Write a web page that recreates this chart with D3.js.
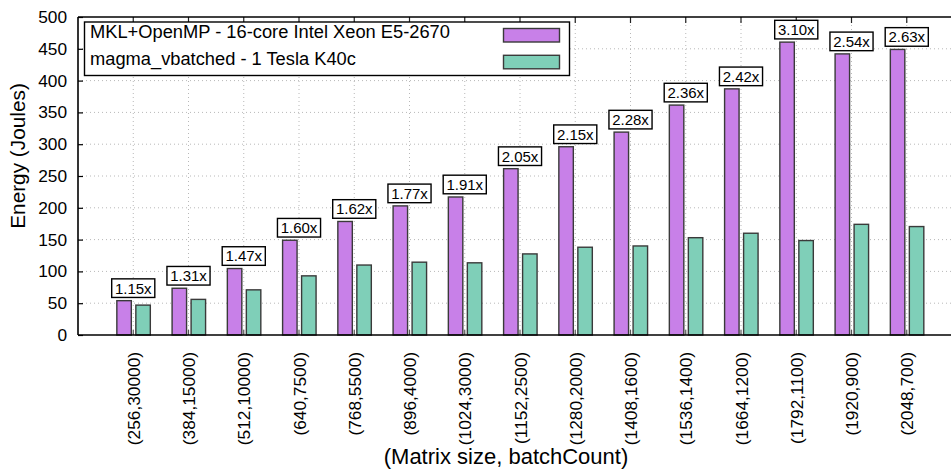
<!DOCTYPE html>
<html>
<head>
<meta charset="utf-8">
<script src="https://cdn.jsdelivr.net/npm/d3@7"></script>
<style>
  html, body { margin: 0; padding: 0; background: #fff; }
  svg { display: block; font-family: "Liberation Sans", Arial, Helvetica, sans-serif; }
</style>
</head>
<body>
<svg id="chart" width="951" height="470"></svg>
<script>
// Matrix size / batch count configurations
const categories = [
  "(256,30000)", "(384,15000)", "(512,10000)", "(640,7500)", "(768,5500)",
  "(896,4000)", "(1024,3000)", "(1152,2500)", "(1280,2000)", "(1408,1600)",
  "(1536,1400)", "(1664,1200)", "(1792,1100)", "(1920,900)", "(2048,700)"
];
// Energy in Joules, CPU (MKL+OpenMP) and GPU (magma_vbatched)
const cpuEnergy = [54, 73.5, 104.5, 149, 178.5, 203, 217, 261.5, 296, 319, 361.5, 387, 460.5, 442, 449];
const gpuEnergy = [47, 56, 71, 93, 110, 114.5, 113.5, 127.5, 138, 140, 153, 160, 148.5, 174, 170.5];
// Energy ratio annotated above each pair
const speedups = [1.15, 1.31, 1.47, 1.60, 1.62, 1.77, 1.91, 2.05, 2.15, 2.28, 2.36, 2.42, 3.10, 2.54, 2.63];
const yTicks = [0, 50, 100, 150, 200, 250, 300, 350, 400, 450, 500];
const seriesNames = ["MKL+OpenMP - 16-core Intel Xeon E5-2670", "magma_vbatched - 1 Tesla K40c"];
const seriesColors = ["#c880e8", "#7fcfb8"];

const svg = d3.select("#chart");
const plotLeft = 78, plotTop = 17, plotBottom = 335, plotRight = 962;

const x = d3.scaleLinear().domain([-1, categories.length]).range([plotLeft, plotRight]);
const y = d3.scaleLinear().domain([0, 500]).range([plotBottom, plotTop]);

// grid
const grid = svg.append("g").attr("stroke", "#b8b8b8").attr("stroke-width", 1)
  .attr("stroke-dasharray", "1,3");
grid.selectAll("line.h").data(yTicks.filter(t => t > 0 && t < 500)).join("line")
  .attr("x1", plotLeft).attr("x2", plotRight).attr("y1", d => y(d)).attr("y2", d => y(d));
grid.selectAll("line.v").data(categories).join("line")
  .attr("x1", (d, i) => x(i)).attr("x2", (d, i) => x(i)).attr("y1", plotTop).attr("y2", plotBottom);

// bars
const barW = 0.262;
const offsets = [-0.297, 0.047];
const series = [cpuEnergy, gpuEnergy];
series.forEach((vals, s) => {
  svg.append("g").selectAll("rect").data(vals).join("rect")
    .attr("x", (d, i) => x(i + offsets[s]))
    .attr("width", x(barW) - x(0))
    .attr("y", d => y(d))
    .attr("height", d => y(0) - y(d))
    .attr("fill", seriesColors[s])
    .attr("stroke", "#3a3a3a")
    .attr("stroke-width", 1.4);
});

// inner tick marks at the category positions (bottom and top)
const tk = svg.append("g").attr("stroke", "#555").attr("stroke-width", 1.2);
tk.selectAll("line.b").data(categories).join("line")
  .attr("x1", (d, i) => x(i)).attr("x2", (d, i) => x(i)).attr("y1", plotBottom).attr("y2", plotBottom - 5);
tk.selectAll("line.t").data(categories).join("line")
  .attr("x1", (d, i) => x(i)).attr("x2", (d, i) => x(i)).attr("y1", plotTop).attr("y2", plotTop + 6)
  .attr("stroke", "#222");

// y axis
const yAxis = d3.axisLeft(y).tickValues(yTicks).tickSizeInner(-5).tickSizeOuter(0).tickPadding(11);
const ya = svg.append("g").attr("transform", `translate(${plotLeft},0)`).call(yAxis);
ya.select(".domain").remove();
ya.selectAll(".tick line").attr("stroke", "#000").attr("stroke-width", 1.2);
ya.selectAll(".tick text").attr("font-size", 17.3).attr("fill", "#000")
  .attr("font-family", "Liberation Sans, Arial, sans-serif");

// x axis labels (rotated)
const xAxis = d3.axisBottom(x).tickValues(d3.range(categories.length))
  .tickFormat(i => categories[i]).tickSize(0);
const xa = svg.append("g").attr("transform", `translate(0,${plotBottom})`).call(xAxis);
xa.select(".domain").remove();
xa.selectAll(".tick text")
  .attr("font-size", 17.3).attr("fill", "#000")
  .attr("font-family", "Liberation Sans, Arial, sans-serif")
  .attr("text-anchor", "end")
  .attr("transform", "translate(0,17) rotate(-90)")
  .attr("x", 0).attr("y", 0).attr("dy", "0.36em");

// frame
const frame = svg.append("g").attr("stroke", "#000").attr("stroke-width", 1.6).attr("fill", "none");
frame.append("line").attr("x1", plotLeft).attr("x2", plotRight).attr("y1", plotBottom).attr("y2", plotBottom);
frame.append("line").attr("x1", plotLeft).attr("x2", plotRight).attr("y1", plotTop).attr("y2", plotTop);
frame.append("line").attr("x1", plotLeft).attr("x2", plotLeft).attr("y1", plotTop).attr("y2", plotBottom);

// ratio labels
const lab = svg.append("g").selectAll("g").data(speedups).join("g")
  .attr("transform", (d, i) => `translate(${x(i)},${y(cpuEnergy[i]) - 12.5})`);
lab.append("rect").attr("fill", "#fff").attr("stroke", "#000").attr("stroke-width", 1.4);
lab.append("text").attr("text-anchor", "middle").attr("dy", "0.36em")
  .attr("font-size", 15).text(d => d3.format(".2f")(d) + "x");
lab.each(function () {
  const g = d3.select(this);
  const w = g.select("text").node().getComputedTextLength();
  g.select("rect").attr("x", -w / 2 - 3.2).attr("width", w + 6.4).attr("y", -9.3).attr("height", 18.6);
});

// legend
const lg = svg.append("g");
lg.append("rect").attr("x", 84.5).attr("y", 22).attr("width", 485).attr("height", 53.5)
  .attr("fill", "#fff").attr("stroke", "#000").attr("stroke-width", 1.4);
seriesNames.forEach((name, s) => {
  lg.append("text").attr("x", 90).attr("y", 38 + s * 26.6).attr("font-size", 18.3).text(name);
  lg.append("rect").attr("x", 503.5).attr("y", 28.5 + s * 26.8).attr("width", 56).attr("height", 13.5)
    .attr("fill", seriesColors[s]).attr("stroke", "#3a3a3a").attr("stroke-width", 1.4);
});

// axis titles
svg.append("text").attr("transform", "translate(25,156) rotate(-90)")
  .attr("text-anchor", "middle").attr("font-size", 20.8).text("Energy (Joules)");
svg.append("text").attr("x", 506).attr("y", 464)
  .attr("text-anchor", "middle").attr("font-size", 22).text("(Matrix size, batchCount)");
</script>
</body>
</html>
